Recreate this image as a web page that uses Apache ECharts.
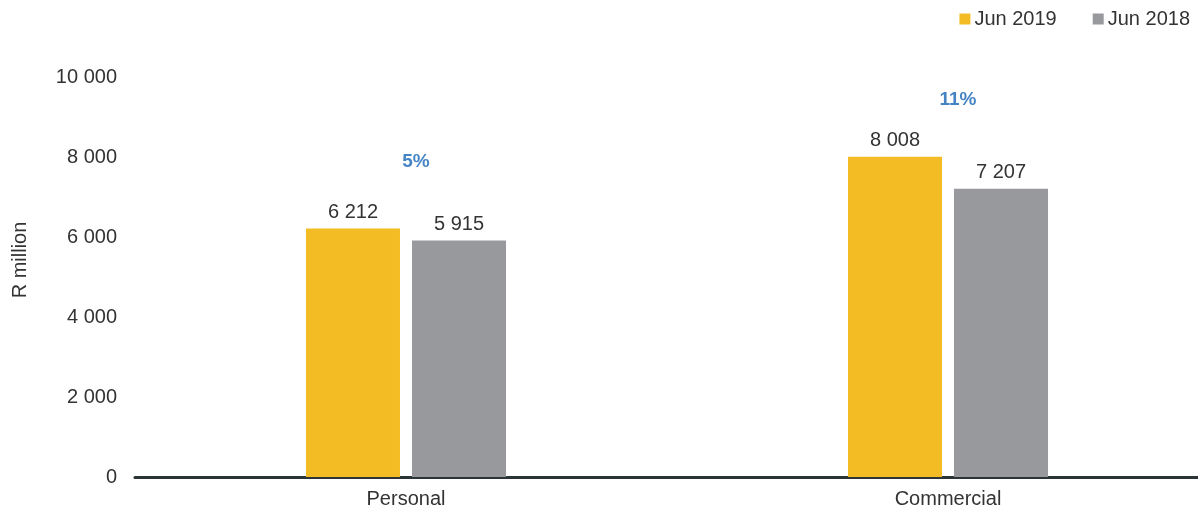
<!DOCTYPE html>
<html>
<head>
<meta charset="utf-8">
<script src="https://cdn.jsdelivr.net/npm/echarts@6/dist/echarts.min.js"></script>
<style>
  html, body { margin: 0; padding: 0; background: #fff; }
  #chart { width: 1198px; height: 517px; }
</style>
</head>
<body>
<div id="chart"></div>
<script>
// Portfolio by segment, R million
const categories = ['Personal', 'Commercial'];
const seriesNames = ['Jun 2019', 'Jun 2018'];
const jun2019 = [6212, 8008];
const jun2018 = [5915, 7207];
const yTicks = [0, 2000, 4000, 6000, 8000, 10000];
// year-on-year growth labels and the value level they sit at
const growthLabels = ['5%', '11%'];
const growthLevels = [7890, 9440];

const FONT = '"Liberation Sans", Arial, sans-serif';
const TEXT = '#333333';
const fmt = v => String(v).replace(/\B(?=(\d{3})+(?!\d))/g, ' ');

const chart = echarts.init(document.getElementById('chart'));

const barLabel = {
  show: true,
  position: 'top',
  distance: 6,
  color: TEXT,
  fontSize: 20,
  fontFamily: FONT,
  formatter: p => fmt(p.value)
};

chart.setOption({
  animation: false,
  textStyle: { fontFamily: FONT },
  legend: {
    data: seriesNames,
    right: 3,
    top: 4,
    itemWidth: 11,
    itemHeight: 11,
    itemGap: 36,
    icon: 'rect',
    textStyle: { fontSize: 20, color: TEXT, fontFamily: FONT, padding: [0, 0, 0, -1] }
  },
  // axis runs past the right edge, so the plot is wider than the page
  grid: { left: 135, width: 1084, top: 77, bottom: 40, outerBoundsMode: 'none' },
  graphic: [{
    type: 'text',
    x: 20,
    y: 260,
    rotation: Math.PI / 2,
    style: {
      text: 'R million',
      fill: TEXT,
      font: '20px ' + FONT,
      textAlign: 'center',
      textVerticalAlign: 'middle'
    }
  }],
  xAxis: {
    type: 'category',
    data: categories,
    axisLine: { show: true, lineStyle: { color: '#2B3538', width: 3 } },
    axisTick: { show: false },
    axisLabel: { fontSize: 20, color: TEXT, fontFamily: FONT, margin: 12 }
  },
  yAxis: {
    type: 'value',
    min: yTicks[0],
    max: yTicks[yTicks.length - 1],
    interval: yTicks[1] - yTicks[0],
    axisLine: { show: false },
    axisTick: { show: false },
    splitLine: { show: false },
    axisLabel: { fontSize: 20, color: TEXT, fontFamily: FONT, margin: 18, formatter: v => fmt(v) }
  },
  series: [
    {
      name: seriesNames[0],
      type: 'bar',
      data: jun2019,
      barWidth: 94,
      barGap: '12.8%',
      itemStyle: { color: '#F4BC24' },
      label: barLabel
    },
    {
      name: seriesNames[1],
      type: 'bar',
      data: jun2018,
      barWidth: 94,
      itemStyle: { color: '#97999C' },
      label: barLabel
    },
    {
      name: 'growth',
      type: 'scatter',
      symbolSize: 0,
      silent: true,
      data: categories.map((c, i) => [c, growthLevels[i]]),
      label: {
        show: true,
        position: 'inside',
        offset: [10, 0],
        color: '#1565B5',
        fontSize: 19,
        fontWeight: 'bold',
        fontFamily: FONT,
        formatter: p => growthLabels[p.dataIndex]
      }
    }
  ]
});
</script>
</body>
</html>
